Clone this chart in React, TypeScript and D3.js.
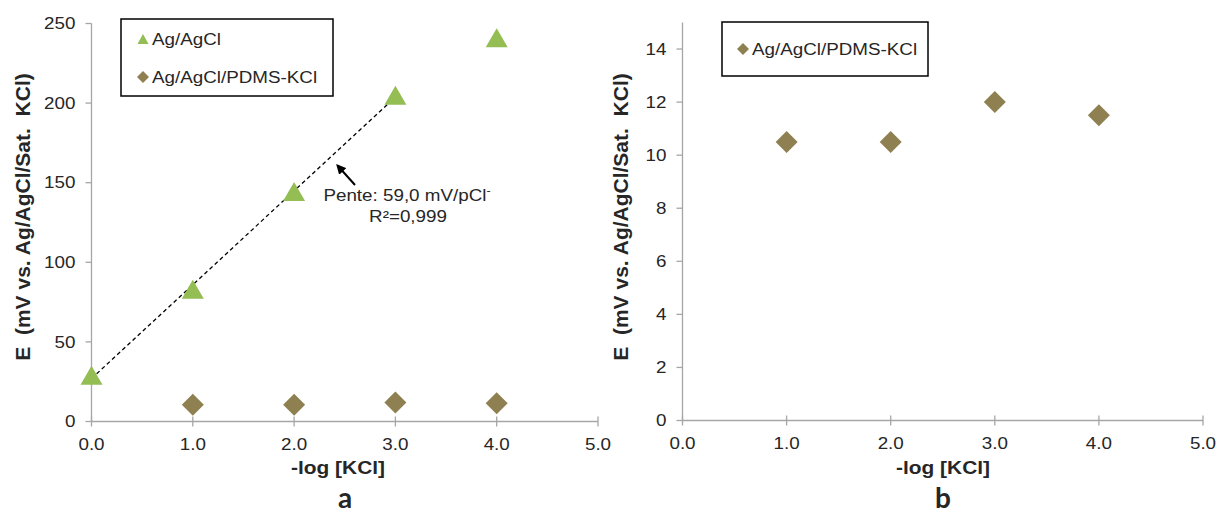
import React from "react";
import * as d3 from "d3";

// ---- data ----
const xTicks = [0, 1, 2, 3, 4, 5];
const yTicksA = [0, 50, 100, 150, 200, 250];
const yTicksB = [0, 2, 4, 6, 8, 10, 12, 14];

const agX = [0, 1, 2, 3, 4];
const agY = [29, 83, 144.5, 205, 241];

const pdmsX = [1, 2, 3, 4];
const pdmsY = [10.5, 10.5, 12, 11.5];

const fitCount = 4; // trend line over the first four Ag/AgCl points

const GREEN = "#94BD54";
const BROWN = "#8E8050";
const AXIS = "#A6A6A6";
const TXT = "#262626";
const FONT = "'Liberation Sans', Arial, sans-serif";
const SX = 1.14;

function linReg(xs: number[], ys: number[]) {
  const mx = d3.mean(xs)!;
  const my = d3.mean(ys)!;
  let sxy = 0, sxx = 0;
  xs.forEach((x, i) => {
    sxy += (x - mx) * (ys[i] - my);
    sxx += (x - mx) * (x - mx);
  });
  const m = sxy / sxx;
  return { m, b: my - m * mx };
}

const tri = (cx: number, cy: number, w: number, h: number) =>
  `M${cx},${cy - h / 2}L${cx + w / 2},${cy + h / 2}L${cx - w / 2},${cy + h / 2}Z`;
const dia = (cx: number, cy: number, r: number) =>
  `M${cx},${cy - r}L${cx + r},${cy}L${cx},${cy + r}L${cx - r},${cy}Z`;

function T({ x, y, children, size = 16.5, anchor = "start", weight = "normal", dy, family = FONT, sx = SX }: any) {
  return (
    <g transform={`translate(${x},${y}) scale(${sx},1)`}>
      <text x={0} y={0} dy={dy} textAnchor={anchor} fontSize={size} fontWeight={weight} fill={TXT} fontFamily={family}>
        {children}
      </text>
    </g>
  );
}

function Axes({ x, y, yTicks, yDomTop }: any) {
  const [x0, x1] = x.range();
  const y0 = y(0);
  return (
    <g>
      <line x1={x0} x2={x0} y1={y0} y2={y(yDomTop)} stroke={AXIS} strokeWidth={1.3} />
      <line x1={x0} x2={x1} y1={y0} y2={y0} stroke={AXIS} strokeWidth={1.3} />
      {yTicks.map((t: number) => (
        <g key={"y" + t}>
          <line x1={x0 - 6} x2={x0} y1={y(t)} y2={y(t)} stroke={AXIS} strokeWidth={1.3} />
          <T x={x0 - 16} y={y(t)} dy="0.35em" anchor="end">{t}</T>
        </g>
      ))}
      {xTicks.map((t) => (
        <g key={"x" + t}>
          <line x1={x(t)} x2={x(t)} y1={y0 - 5} y2={y0 + 5} stroke={AXIS} strokeWidth={1.3} />
          <T x={x(t)} y={y0 + 28} anchor="middle">{d3.format(".1f")(t)}</T>
        </g>
      ))}
    </g>
  );
}

export default function App() {
  const xA = d3.scaleLinear().domain([0, 5]).range([91.5, 598]);
  const yA = d3.scaleLinear().domain([0, 250]).range([421.5, 23.5]);
  const xB = d3.scaleLinear().domain([0, 5]).range([682.5, 1203]);
  const yB = d3.scaleLinear().domain([0, 15]).range([420.5, 22.5]);

  const fit = linReg(agX.slice(0, fitCount), agY.slice(0, fitCount));
  const fx0 = agX[0];
  const fx1 = agX[fitCount - 1];

  const yTitle = "E  (mV vs. Ag/AgCl/Sat.  KCl)";

  return (
    <svg width={1218} height={510} style={{ position: "absolute", left: 0, top: 0, background: "#fff" }}>
      <defs>
        <marker id="arr" viewBox="0 0 10 10" refX="8" refY="5" markerWidth="5" markerHeight="5" orient="auto">
          <path d="M0,0L10,5L0,10Z" fill="#000" />
        </marker>
      </defs>

      {/* ---------- panel a ---------- */}
      <Axes x={xA} y={yA} yTicks={yTicksA} yDomTop={250} />
      <line
        x1={xA(fx0)} y1={yA(fit.b + fit.m * fx0)}
        x2={xA(fx1)} y2={yA(fit.b + fit.m * fx1)}
        stroke="#000" strokeWidth={1.3} strokeDasharray="4,3"
      />
      {agX.map((v, i) => (
        <path key={"a" + i} d={tri(xA(v), yA(agY[i]), 22, 19)} fill={GREEN} />
      ))}
      {pdmsX.map((v, i) => (
        <path key={"p" + i} d={dia(xA(v), yA(pdmsY[i]), 11)} fill={BROWN} />
      ))}
      {/* annotation */}
      <line x1={355} y1={185} x2={337.5} y2={165.5} stroke="#000" strokeWidth={2} markerEnd="url(#arr)" />
      <T x={407} y={201} anchor="middle">
        Pente: 59,0 mV/pCl<tspan dy={-7} fontSize={11}>-</tspan>
      </T>
      <T x={408} y={222} anchor="middle">R²=0,999</T>
      {/* legend a */}
      <rect x={121} y={19} width={212} height={77} fill="#fff" stroke="#000" strokeWidth={1.5} />
      <path d={tri(143, 39, 11, 10)} fill={GREEN} />
      <T x={152} y={39} dy="0.35em">Ag/AgCl</T>
      <path d={dia(143, 77, 6)} fill={BROWN} />
      <T x={152} y={77} dy="0.35em">Ag/AgCl/PDMS-KCl</T>
      {/* titles a */}
      <T x={338} y={474} anchor="middle" size={19} weight="bold" sx={1.1}>-log [KCl]</T>
      <T x={345} y={508} anchor="middle" size={28} weight="bold" sx={1} family="Lato, 'Open Sans', sans-serif">a</T>
      <text transform={`translate(23,217) rotate(-90)`} dy="0.35em" textAnchor="middle" fontSize={21} fontWeight="bold" fill={TXT} fontFamily={FONT} style={{ whiteSpace: "pre" }}>
        {yTitle}
      </text>

      {/* ---------- panel b ---------- */}
      <Axes x={xB} y={yB} yTicks={yTicksB} yDomTop={15} />
      {pdmsX.map((v, i) => (
        <path key={"pb" + i} d={dia(xB(v), yB(pdmsY[i]), 11)} fill={BROWN} />
      ))}
      <rect x={722} y={22} width={206} height={54} fill="#fff" stroke="#000" strokeWidth={1.5} />
      <path d={dia(743, 49, 6)} fill={BROWN} />
      <T x={752} y={49} dy="0.35em">Ag/AgCl/PDMS-KCl</T>
      <T x={943} y={474} anchor="middle" size={19} weight="bold" sx={1.1}>-log [KCl]</T>
      <T x={943} y={508} anchor="middle" size={28} weight="bold" sx={1} family="Lato, 'Open Sans', sans-serif">b</T>
      <text transform={`translate(621,217) rotate(-90)`} dy="0.35em" textAnchor="middle" fontSize={21} fontWeight="bold" fill={TXT} fontFamily={FONT} style={{ whiteSpace: "pre" }}>
        {yTitle}
      </text>
    </svg>
  );
}
